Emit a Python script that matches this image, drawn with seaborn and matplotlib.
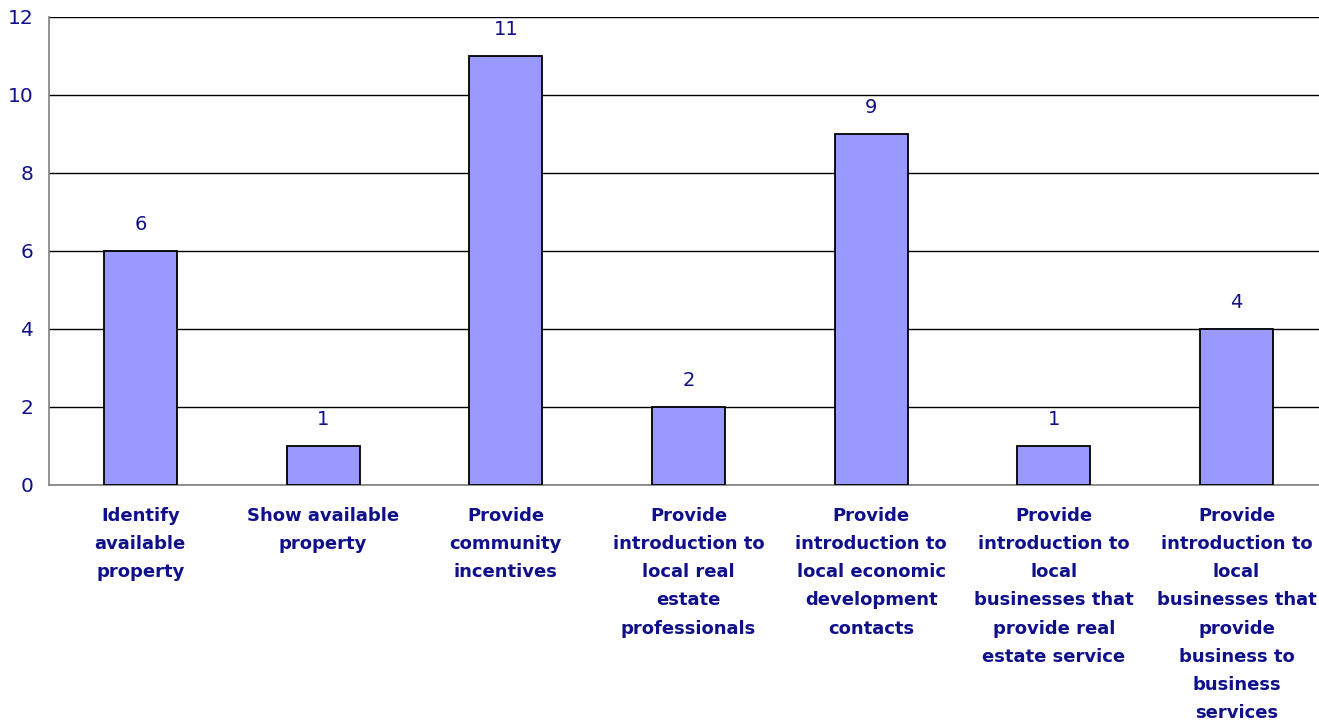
import matplotlib
matplotlib.use("Agg")
import matplotlib.pyplot as plt
import seaborn as sns
import pandas as pd
from matplotlib.ticker import FixedLocator

categories = [
    "Identify\navailable\nproperty",
    "Show available\nproperty",
    "Provide\ncommunity\nincentives",
    "Provide\nintroduction to\nlocal real\nestate\nprofessionals",
    "Provide\nintroduction to\nlocal economic\ndevelopment\ncontacts",
    "Provide\nintroduction to\nlocal\nbusinesses that\nprovide real\nestate service",
    "Provide\nintroduction to\nlocal\nbusinesses that\nprovide\nbusiness to\nbusiness\nservices",
]
values = [6, 1, 11, 2, 9, 1, 4]
y_ticks = [0, 2, 4, 6, 8, 10, 12]

sns.set_style("white")
plt.rcParams['font.family'] = ['DejaVu Sans']

NAVY = "#10108a"
df = pd.DataFrame({"cat": categories, "val": values})

fig = plt.figure(figsize=(13.19, 7.26), dpi=100)
W, H = 1319, 726
left, right, top, bottom = 49, 1319, 17, 485
ax = fig.add_axes([left / W, 1 - bottom / H, (right - left) / W, (bottom - top) / H])

sns.barplot(data=df, x="cat", y="val", ax=ax, color="#9999FF", width=0.4,
            edgecolor="black", linewidth=1.3, saturation=1, zorder=3)

ax.set_ylim(0, 12)
ax.set_xlim(-0.5, -0.5 + (right - left) / 182.7)
ax.set_yticks(y_ticks)
ax.set_yticklabels([str(t) for t in y_ticks], color=NAVY, fontsize=14.5)
ax.yaxis.grid(True, color="black", linewidth=1, zorder=0)
ax.set_axisbelow(True)

ax.set_xticks(range(len(categories)))
ax.set_xticklabels(categories, color=NAVY, fontsize=13.0, fontweight="bold",
                   linespacing=1.72, va="top")
ax.tick_params(axis="x", which="major", length=0, pad=16)
ax.xaxis.set_minor_locator(FixedLocator([i - 0.5 for i in range(len(categories) + 1)]))
ax.tick_params(axis="x", which="minor", length=6, width=1, color="#404040", direction="out")
ax.tick_params(axis="y", length=7, width=1, color="#808080", direction="out", pad=4)

for s in ["top", "right"]:
    ax.spines[s].set_visible(False)
ax.spines["left"].set_color("#808080")
ax.spines["bottom"].set_color("#808080")
ax.spines["left"].set_linewidth(1.2)
ax.spines["bottom"].set_linewidth(1.2)

ax.set_xlabel("")
ax.set_ylabel("")

for i, v in enumerate(values):
    ax.annotate(str(v), (i, v), xytext=(0, 12), textcoords="offset points",
                ha="center", va="bottom", color=NAVY, fontsize=14)

fig.savefig("out.png", dpi=100)
